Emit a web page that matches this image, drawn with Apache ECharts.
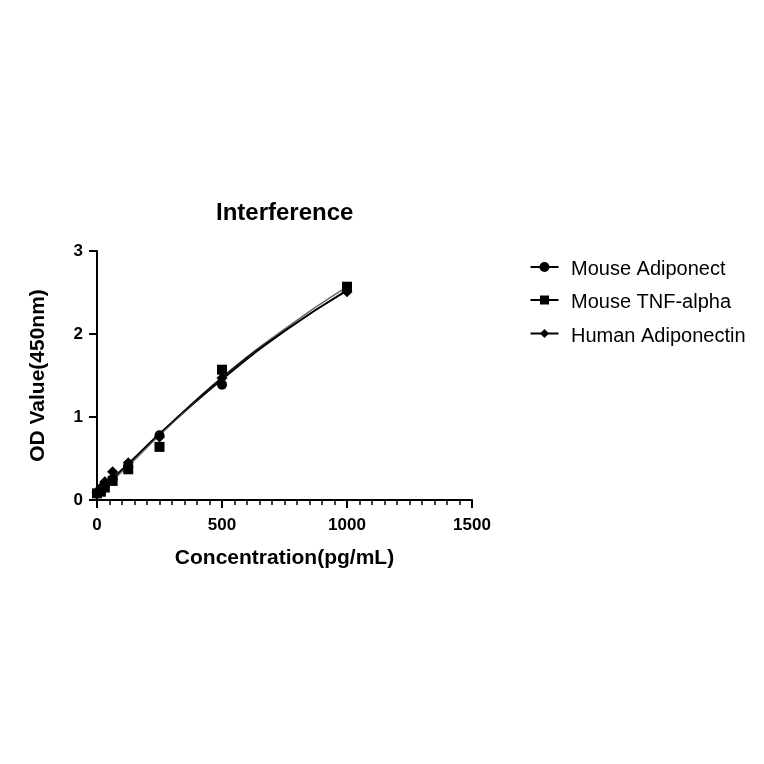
<!DOCTYPE html>
<html><head><meta charset="utf-8">
<script src="https://cdn.jsdelivr.net/npm/echarts@6/dist/echarts.min.js"></script>
<style>html,body{margin:0;padding:0;background:#fff}#c{width:764px;height:764px}</style>
</head><body><div id="c"></div>
<script>
const conc = [0, 15.625, 31.25, 62.5, 125, 250, 500, 1000];
const mouseAdipo = [0.08, 0.12, 0.17, 0.25, 0.40, 0.78, 1.39, 2.53];
const mouseTNF = [0.08, 0.10, 0.15, 0.23, 0.37, 0.64, 1.57, 2.57];
const humanAdipo = [0.09, 0.15, 0.22, 0.34, 0.45, 0.76, 1.47, 2.51];
// fitted curves
const fitX = [0, 125, 250, 500, 750, 1000];
const fitMouseAdipo = [0.08, 0.43, 0.79, 1.45, 2.03, 2.53];
const fitMouseTNF = [0.07, 0.41, 0.78, 1.48, 2.06, 2.57];
const fitHumanAdipo = [0.09, 0.44, 0.80, 1.47, 2.04, 2.52];
const names = ['Mouse Adiponect', 'Mouse TNF-alpha', 'Human Adiponectin'];
const symbols = ['circle', 'rect', 'diamond'];
const sizes = [10, 10, 11];
const pts = [mouseAdipo, mouseTNF, humanAdipo];
const fits = [fitMouseAdipo, fitMouseTNF, fitHumanAdipo];
const fitColors = ['#000', '#666', '#000'];

const series = [];
names.forEach((n, i) => {
  series.push({
    name: n, type: 'line', smooth: true, symbol: 'none',
    data: fitX.map((x, j) => [x, fits[i][j]]),
    lineStyle: { color: fitColors[i], width: 1.5 }, itemStyle: { color: '#000' },
    silent: true, z: 2
  });
  series.push({
    name: n, type: 'scatter', symbol: symbols[i], symbolSize: sizes[i],
    data: conc.map((x, j) => [x, pts[i][j]]),
    itemStyle: { color: '#000', opacity: 1 }, z: 3
  });
});

const FONT = 'Liberation Sans';
const chart = echarts.init(document.getElementById('c'));
chart.setOption({
  animation: false,
  backgroundColor: '#fff',
  title: { text: 'Interference', left: 211, top: 196,
    textStyle: { fontFamily: FONT, fontWeight: 'bold', fontSize: 24, color: '#000' } },
  legend: {
    orient: 'vertical', left: 533, top: 254, itemGap: 13.5, itemWidth: 28, itemHeight: 10,
    data: names.map((n) => ({ name: n, icon: 'none' })),
    textStyle: { fontFamily: FONT, fontSize: 20, color: '#000' }
  },
  graphic: names.map((n, i) => ({
    type: 'group', left: 528, top: 262 + i * 33.5,
    children: [
      { type: 'line', shape: { x1: 0, y1: 6, x2: 28, y2: 6 }, style: { stroke: '#000', lineWidth: 2 } },
      i === 0 ? { type: 'circle', shape: { cx: 14, cy: 6, r: 5 }, style: { fill: '#000' } } :
      i === 1 ? { type: 'rect', shape: { x: 9.5, y: 1.5, width: 9, height: 9 }, style: { fill: '#000' } } :
      { type: 'polygon', shape: { points: [[14, 1.5], [18.5, 6], [14, 10.5], [9.5, 6]] }, style: { fill: '#000' } }
    ]
  })),
  grid: { left: 97, right: 292, top: 251, bottom: 264 },
  xAxis: {
    type: 'value', min: 0, max: 1500, interval: 500,
    name: 'Concentration(pg/mL)', nameLocation: 'middle', nameGap: 48,
    nameTextStyle: { fontFamily: FONT, fontWeight: 'bold', fontSize: 21, color: '#000' },
    axisLine: { lineStyle: { color: '#000', width: 2 } },
    axisTick: { show: true, length: 8, lineStyle: { width: 2, color: '#000' } },
    minorTick: { show: true, splitNumber: 10, length: 5, lineStyle: { width: 1.5, color: '#000' } },
    splitLine: { show: false },
    axisLabel: { fontFamily: FONT, fontWeight: 'bold', fontSize: 17, color: '#000', margin: 17,
      formatter: (v) => String(v) }
  },
  yAxis: {
    type: 'value', min: 0, max: 3, interval: 1,
    name: 'OD Value(450nm)', nameLocation: 'middle', nameGap: 48, nameRotate: 90,
    nameTextStyle: { fontFamily: FONT, fontWeight: 'bold', fontSize: 21, color: '#000' },
    axisLine: { show: true, lineStyle: { color: '#000', width: 2 } },
    axisTick: { show: true, length: 8, lineStyle: { width: 2, color: '#000' } },
    splitLine: { show: false },
    axisLabel: { fontFamily: FONT, fontWeight: 'bold', fontSize: 17, color: '#000', margin: 14 }
  },
  series: series
});
</script></body></html>
